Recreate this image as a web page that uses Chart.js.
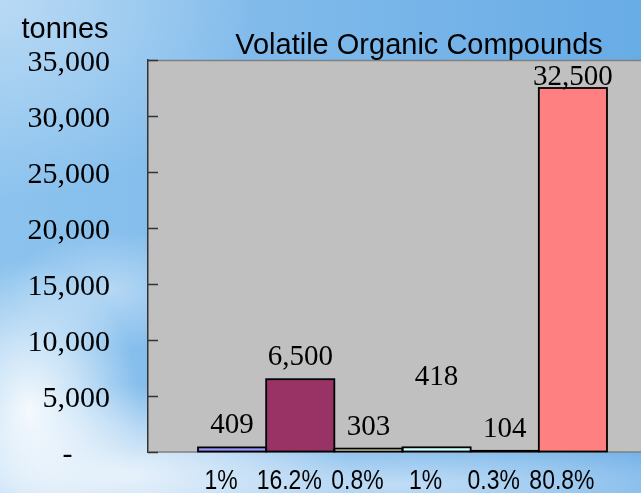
<!DOCTYPE html>
<html>
<head>
<meta charset="utf-8">
<script src="https://cdn.jsdelivr.net/npm/chart.js@4/dist/chart.umd.min.js"></script>
<style>
  html, body { margin: 0; padding: 0; overflow: hidden; width: 641px; height: 493px; }
  body {
    background:
      radial-gradient(ellipse 110px 150px at 30px 410px, rgba(255,255,255,0.9) 0%, rgba(255,255,255,0.55) 45%, rgba(255,255,255,0) 100%),
      radial-gradient(ellipse 220px 90px at 130px 475px, rgba(240,246,252,0.9) 0%, rgba(240,246,252,0.45) 55%, rgba(240,246,252,0) 100%),
      radial-gradient(ellipse 420px 50px at 400px 485px, rgba(205,228,248,0.85) 0%, rgba(205,228,248,0) 100%),
      radial-gradient(ellipse 100px 60px at 110px 290px, rgba(220,236,250,0.55) 0%, rgba(220,236,250,0) 100%),
      radial-gradient(ellipse 260px 200px at 0px 0px, rgba(190,220,245,0.9) 0%, rgba(190,220,245,0) 100%),
      linear-gradient(to right, #8cc3ee 0%, #7db8ea 50%, #68ace6 100%);
  }
  canvas { display: block; }
</style>
</head>
<body>
<canvas id="c" width="680" height="493"></canvas>
<script>
const values = [409, 6500, 303, 418, 104, 32500];
const valueLabels = ['409', '6,500', '303', '418', '104', '32,500'];
const percentLabels = ['1%', '16.2%', '0.8%', '1%', '0.3%', '80.8%'];
const barColors = ['#9999ff', '#993366', '#ffffcc', '#ccffff', '#660066', '#ff8080'];
const labelGaps = [14, 14, 14, 62, 14, 3];
const yMin = 0, yMax = 35000, yStep = 5000;
const titleText = 'Volatile Organic Compounds';
const unitText = 'tonnes';

const datasets = values.map((v, i) => ({
  data: [v],
  backgroundColor: barColors[i],
  borderWidth: 0,
  categoryPercentage: 0.8035,
  barPercentage: 1.0
}));

const decor = {
  id: 'decor',
  beforeDraw(chart) {
    const a = chart.chartArea, ctx = chart.ctx;
    ctx.save();
    ctx.fillStyle = '#c0c0c0';
    ctx.fillRect(a.left, a.top, a.right - a.left, a.bottom - a.top);
    ctx.restore();
  },
  beforeDatasetsDraw(chart) {
    const a = chart.chartArea, ctx = chart.ctx;
    ctx.save();
    ctx.strokeStyle = '#808080';
    ctx.lineWidth = 1.5;
    ctx.beginPath();
    ctx.moveTo(a.left, a.top + 0.5); ctx.lineTo(a.right, a.top + 0.5);
    ctx.moveTo(a.left, a.bottom); ctx.lineTo(chart.width, a.bottom);
    ctx.stroke();
    const ys = chart.scales.y;
    ctx.strokeStyle = '#333333';
    ctx.lineWidth = 1.5;
    ctx.beginPath();
    ys.ticks.forEach(t => {
      const y = Math.round(ys.getPixelForValue(t.value)) + 0.5;
      ctx.moveTo(a.left, y); ctx.lineTo(a.left + 10, y);
    });
    ctx.stroke();
    ctx.restore();
  },
  afterDatasetsDraw(chart) {
    const ctx = chart.ctx;
    ctx.save();
    ctx.strokeStyle = '#000000';
    ctx.lineWidth = 1.8;
    chart.data.datasets.forEach((ds, i) => {
      const b = chart.getDatasetMeta(i).data[0].getProps(['x', 'y', 'width', 'base'], true);
      ctx.strokeRect(b.x - b.width / 2, b.y, b.width, b.base - b.y);
    });
    ctx.restore();
  },
  afterDraw(chart) {
    const ctx = chart.ctx;
    ctx.save();
    ctx.fillStyle = '#000000';
    ctx.textBaseline = 'alphabetic';
    ctx.textAlign = 'center';
    ctx.font = '29px "Liberation Serif", "Times New Roman", serif';
    chart.data.datasets.forEach((ds, i) => {
      const bar = chart.getDatasetMeta(i).data[0];
      ctx.fillText(valueLabels[i], bar.x, bar.y - labelGaps[i]);
    });
    ctx.font = '27px "Liberation Sans", Arial, sans-serif';
    chart.data.datasets.forEach((ds, i) => {
      const bar = chart.getDatasetMeta(i).data[0];
      ctx.save();
      ctx.translate(bar.x - 11, 489);
      ctx.scale(0.85, 1);
      ctx.fillText(percentLabels[i], 0, 0);
      ctx.restore();
    });
    ctx.font = '29px "Liberation Sans", Arial, sans-serif';
    ctx.fillText(titleText, 419, 54);
    ctx.fillText(unitText, 65, 38);
    ctx.restore();
  }
};

new Chart(document.getElementById('c'), {
  type: 'bar',
  data: { labels: [''], datasets },
  options: {
    responsive: false,
    animation: false,
    devicePixelRatio: 1,
    layout: { padding: { left: 0, top: 60, right: 23, bottom: 41 } },
    plugins: { legend: { display: false }, tooltip: { enabled: false }, title: { display: false } },
    scales: {
      x: { display: false },
      y: {
        min: yMin, max: yMax,
        afterFit(s) { s.width = 148; s.paddingTop = 0; s.paddingBottom = 0; },
        grid: { display: true, drawOnChartArea: false, drawTicks: false },
        border: { display: true, color: '#333333', width: 1.5 },
        ticks: {
          stepSize: yStep,
          padding: 38,
          labelOffset: 3,
          color: '#000000',
          font: { family: '"Liberation Serif", "Times New Roman", serif', size: 30 },
          callback: v => v === 0 ? '-     ' : Number(v).toLocaleString('en-US')
        }
      }
    }
  },
  plugins: [decor]
});
</script>
</body>
</html>
